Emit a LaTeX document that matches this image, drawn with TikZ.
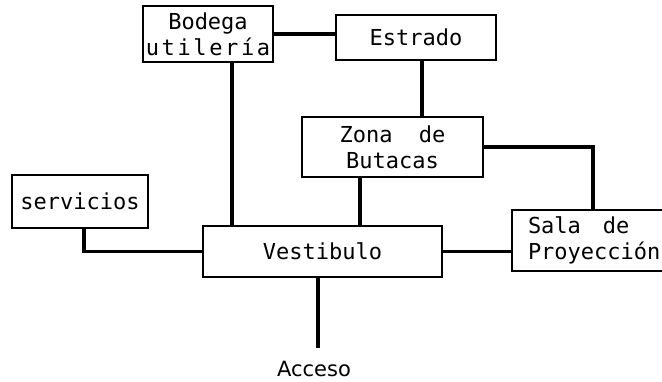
\documentclass[tikz,border=0pt]{standalone}
\usepackage{fontspec}
\newfontfamily\roomfont{DejaVu Sans Mono}
\newfontfamily\accfont{DejaVu Sans}
\usepackage{tikz}

\begin{document}
\begin{tikzpicture}[x=1pt,y=-1pt]
            \useasboundingbox (0,0) rectangle (662,381);
            \tikzstyle{room}=[draw,line width=2.2pt,inner sep=0pt,align=center,font=\roomfont\fontsize{22}{26}\selectfont]
            \node[room,minimum width=130pt,minimum height=56pt] (BOD) at (208,34) {Bodega\\{\addfontfeature{LetterSpace=12}utilería}};
            \node[room,minimum width=160pt,minimum height=45pt] (EST) at (416,37.5) {Estrado};
            \node[room,minimum width=181pt,minimum height=60pt] (ZON) at (392.5,147) {Zona~~de\\Butacas};
            \node[room,minimum width=136pt,minimum height=53pt] (SER) at (80,201.5) {servicios};
            \node[room,minimum width=239pt,minimum height=51pt] (VES) at (322.5,251.5) {Vestibulo};
            \node[room,minimum width=168pt,minimum height=61pt,align=left,text width=136pt] (SAL) at (596,240.5) {Sala~~~de\\Proyección};
            \node[font=\accfont\fontsize{21}{24}\selectfont,inner sep=0pt,anchor=north] (ACC) at (314,361) {Acceso};

            \draw[line width=3.6pt]
                (BOD.east) -- (BOD.east -| EST.west)
                ([xshift=24pt]BOD.south) -- ([xshift=24pt]BOD.south |- VES.north)
                ([xshift=6pt]EST.south) -- ([xshift=6pt]EST.south |- ZON.north)
                ([xshift=-32.5pt]ZON.south) -- ([xshift=-32.5pt]ZON.south |- VES.north)
                (ZON.east) -| ([xshift=-3pt]SAL.north)
                ([xshift=4pt]SER.south) |- (VES.west)
                (VES.east) -- (VES.east -| SAL.west);
            \draw[line width=3.6pt,shorten >=13pt]
                ([xshift=-4.5pt]VES.south) -- ([xshift=-4.5pt]VES.south |- ACC.north);
        \end{tikzpicture}
\end{document}
